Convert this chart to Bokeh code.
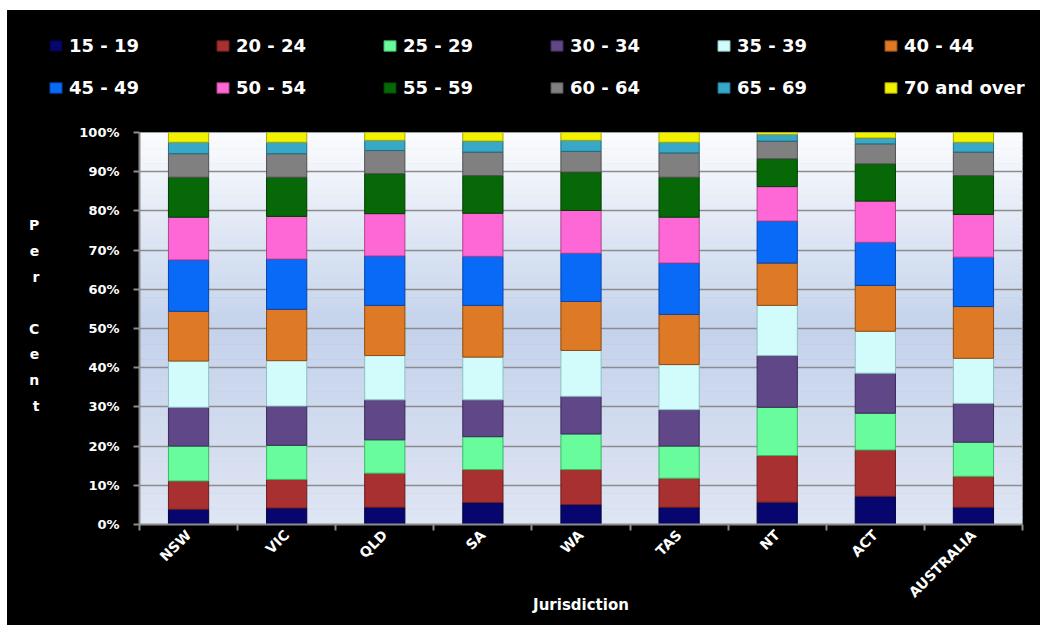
from bokeh.plotting import figure
from bokeh.models import (ColumnDataSource, Range1d, FixedTicker, PrintfTickFormatter,
                          Legend, LegendItem)
from bokeh.layouts import column
from bokeh.embed import file_html
from bokeh.resources import INLINE
import math

jurisdictions = ["NSW", "VIC", "QLD", "SA", "WA", "TAS", "NT", "ACT", "AUSTRALIA"]
age_groups = ["15 - 19", "20 - 24", "25 - 29", "30 - 34", "35 - 39", "40 - 44",
              "45 - 49", "50 - 54", "55 - 59", "60 - 64", "65 - 69", "70 and over"]

g15_19 = [3.9, 4.2, 4.4, 5.6, 5.1, 4.4, 5.7, 7.2, 4.4]
g20_24 = [7.2, 7.3, 8.7, 8.4, 8.9, 7.4, 11.9, 11.8, 7.9]
g25_29 = [8.9, 8.7, 8.5, 8.4, 9.1, 8.2, 12.3, 9.4, 8.7]
g30_34 = [9.9, 10.0, 10.2, 9.4, 9.6, 9.3, 13.2, 10.2, 9.9]
g35_39 = [11.8, 11.6, 11.3, 10.9, 11.7, 11.5, 12.8, 10.7, 11.5]
g40_44 = [12.7, 13.1, 12.8, 13.2, 12.5, 12.8, 10.8, 11.7, 13.2]
g45_49 = [13.1, 12.8, 12.6, 12.5, 12.3, 13.1, 10.7, 11.0, 12.6]
g50_54 = [10.9, 10.9, 10.8, 11.0, 10.9, 11.7, 8.8, 10.5, 10.9]
g55_59 = [10.2, 10.0, 10.2, 9.6, 9.8, 10.2, 7.1, 9.5, 9.9]
g60_64 = [6.0, 6.0, 5.9, 6.0, 5.3, 6.2, 4.5, 5.1, 6.0]
g65_69 = [2.9, 2.9, 2.6, 2.8, 2.8, 2.7, 1.7, 1.5, 2.5]
g70_over = [2.5, 2.5, 2.0, 2.2, 2.0, 2.5, 0.5, 1.4, 2.5]

series = [g15_19, g20_24, g25_29, g30_34, g35_39, g40_44,
          g45_49, g50_54, g55_59, g60_64, g65_69, g70_over]

fill_colors = ["#06066e", "#a83030", "#68fc9c", "#604888", "#d2fcfc", "#de7a26",
               "#0a6af8", "#fe68d6", "#066806", "#808080", "#38a8c8", "#f2f200"]
edge_colors = ["#03033a", "#6e1e1e", "#3cb868", "#3a2a58", "#8cc0c0", "#8e4a12",
               "#0444a8", "#b0408e", "#033c03", "#505050", "#1f6e86", "#a8a800"]

n = len(jurisdictions)
centers = [i + 0.5 for i in range(n)]
keys = ["s%d" % i for i in range(len(series))]
data = {"x": centers, "jurisdiction": jurisdictions}
for k, s in zip(keys, series):
    data[k] = s
source = ColumnDataSource(data)

GRAY = "#8c8c8c"
FONT = "DejaVu Sans"
W = 1033
LEG_H = 112

# ---------------- legend strip (top) ----------------
lf = figure(width=W, height=LEG_H, x_range=Range1d(0, 1), y_range=Range1d(0, 1),
            output_backend="svg", toolbar_location=None,
            x_axis_location=None, y_axis_location=None,
            background_fill_color="black", border_fill_color="black",
            min_border_left=0, min_border_right=0, min_border_top=0, min_border_bottom=0)
lf.outline_line_color = None
lf.xgrid.grid_line_color = None
lf.ygrid.grid_line_color = None
# legend proxies: one bar per series, placed outside the visible range of this strip
proxy_src = ColumnDataSource({"x": [-5.0], "top": [-5.0], "bottom": [-6.0]})
legend_renderers = [lf.vbar(x="x", top="top", bottom="bottom", width=0.5, source=proxy_src,
                            fill_color=fc, line_color=ec, line_width=1)
                    for fc, ec in zip(fill_colors, edge_colors)]
items = [LegendItem(label=lab, renderers=[r]) for lab, r in zip(age_groups, legend_renderers)]
for row, yloc in ((items[:6], 66), (items[6:], 24)):
    lg = Legend(items=row, orientation="horizontal", location=(41, yloc),
                glyph_width=15, glyph_height=13, label_standoff=6, label_width=130,
                label_height=20, spacing=16, padding=0, margin=0,
                background_fill_alpha=0, border_line_color=None,
                label_text_color="white", label_text_font=FONT,
                label_text_font_style="bold", label_text_font_size="18px")
    lf.add_layout(lg, "center")

# ---------------- main chart ----------------
p = figure(width=W, height=615 - LEG_H, x_range=Range1d(0, n), y_range=Range1d(0, 100),
           output_backend="svg", toolbar_location=None,
           background_fill_color="black", border_fill_color="black",
           min_border_left=132, min_border_right=18, min_border_top=10, min_border_bottom=101)
p.outline_line_color = None
for f in (lf, p):
    if hasattr(f, "frame_align"):
        f.frame_align = False

# plot area background gradient (style only)
stops = [(0.0, (0xdf, 0xe5, 0xf3)), (50.0, (0xc4, 0xd2, 0xeb)), (100.0, (0xfb, 0xfc, 0xfe))]
nstrip = 50
bots, tops, cols = [], [], []
for i in range(nstrip):
    y0 = 100.0 * i / nstrip
    y1 = 100.0 * (i + 1) / nstrip
    ym = (y0 + y1) / 2
    for (a, ca), (b, cb) in zip(stops[:-1], stops[1:]):
        if a <= ym <= b:
            t = (ym - a) / (b - a)
            c = tuple(int(round(ca[j] + (cb[j] - ca[j]) * t)) for j in range(3))
            break
    bots.append(y0); tops.append(y1); cols.append("#%02x%02x%02x" % c)
p.quad(left=0, right=n, bottom=bots, top=tops, fill_color=cols,
       line_color=cols, line_width=1, level="underlay")

p.ygrid.grid_line_color = GRAY
p.ygrid.grid_line_width = 1.5
p.xgrid.grid_line_color = None

renderers = p.vbar_stack(keys, x="x", width=0.41, source=source,
                         fill_color=fill_colors, line_color=edge_colors, line_width=1)

# y axis
ya = p.yaxis[0]
ya.ticker = FixedTicker(ticks=list(range(0, 101, 10)))
ya.formatter = PrintfTickFormatter(format="%d%%")
ya.axis_line_color = GRAY
ya.axis_line_width = 2
ya.major_tick_line_color = GRAY
ya.major_tick_line_width = 2
ya.major_tick_out = 6
ya.major_tick_in = 0
ya.minor_tick_line_color = None
ya.major_label_standoff = 14
ya.major_label_text_color = "white"
ya.major_label_text_font = FONT
ya.major_label_text_font_style = "bold"
ya.major_label_text_font_size = "13px"
ya.axis_label_text_color = "white"
ya.axis_label_text_font = FONT
ya.axis_label_text_font_style = "bold"
ya.axis_label_text_font_size = "14px"
if hasattr(ya, "axis_label_orientation"):
    ya.axis_label = "P\ne\nr\n\nC\ne\nn\nt\n"
    ya.axis_label_orientation = "horizontal"
    ya.axis_label_text_line_height = 1.62
    ya.axis_label_standoff = 37
else:
    ya.axis_label = "Per Cent"

# x axis: labels at bar centres, ticks (minor) at category boundaries
xa = p.xaxis[0]
xa.ticker = FixedTicker(ticks=centers, minor_ticks=list(range(n + 1)))
xa.major_label_overrides = {c: j for c, j in zip(centers, jurisdictions)}
xa.axis_line_color = GRAY
xa.axis_line_width = 2
xa.major_tick_line_color = None
xa.minor_tick_line_color = GRAY
xa.minor_tick_line_width = 2
xa.minor_tick_out = 6
xa.minor_tick_in = 0
xa.major_tick_out = 6
xa.major_tick_in = 0
xa.major_label_orientation = math.pi / 4
xa.major_label_standoff = 2
xa.major_label_text_color = "white"
xa.major_label_text_font = FONT
xa.major_label_text_font_style = "bold"
xa.major_label_text_font_size = "14px"
xa.axis_label = "Jurisdiction"
xa.axis_label_standoff = -13
xa.axis_label_text_color = "white"
xa.axis_label_text_font = FONT
xa.axis_label_text_font_style = "bold"
xa.axis_label_text_font_size = "15px"

layout = column(lf, p, spacing=0, margin=(10, 0, 0, 7))
layout.styles = {"background-color": "black"}
open("out.html", "w").write(file_html(layout, INLINE))
